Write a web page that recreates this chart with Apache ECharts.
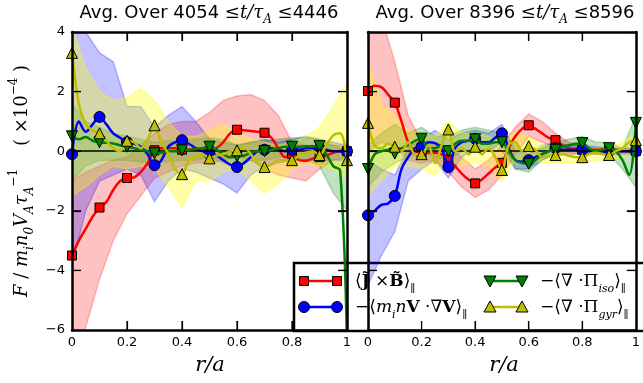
<!DOCTYPE html>
<html><head><meta charset="utf-8">
<script src="https://cdn.jsdelivr.net/npm/echarts@6/dist/echarts.min.js"></script>
<style>html,body{margin:0;padding:0;background:#fff}#c{width:643px;height:383px}</style>
</head><body><div id="c"></div><script>
// radial positions of line samples and band samples
const rLine = [0,0.025,0.05,0.075,0.1,0.125,0.15,0.175,0.2,0.225,0.25,0.275,0.3,0.325,0.35,0.375,0.4,0.425,0.45,0.475,0.5,0.525,0.55,0.575,0.6,0.625,0.65,0.675,0.7,0.725,0.75,0.775,0.8,0.825,0.85,0.875,0.9,0.925,0.95,0.975,1];
const rBand = [0,0.05,0.1,0.15,0.2,0.25,0.3,0.35,0.4,0.45,0.5,0.55,0.6,0.65,0.7,0.75,0.8,0.85,0.9,0.95,1];
const xTicks = [0.2,0.4,0.6,0.8];
const yTicks = [-4,-2,0,2];
const titles = ['4054', '4446', '8396', '8596'];

// ---- Left panel (4054 <= t <= 4446) ----
const redL = [-3.5,-3.0,-2.6,-2.2,-1.89,-1.7,-1.3,-1.0,-0.9,-0.88,-0.7,-0.4,0.03,0.1,0.1,0.1,0.05,0.05,0.05,0.05,0.0,0.1,0.3,0.6,0.72,0.7,0.68,0.65,0.62,0.45,0.1,-0.2,-0.1,-0.3,-0.32,-0.25,-0.2,-0.15,-0.05,0.0,0.0];
const blueL = [-0.1,1.0,0.65,0.9,1.15,0.9,0.6,0.45,0.3,0.25,0.15,-0.1,-0.47,-0.3,0.15,0.3,0.37,0.25,0.1,0.0,-0.1,-0.15,-0.3,-0.45,-0.53,-0.4,-0.2,0.0,0.05,0.1,0.05,0.0,0.05,0.05,0.1,0.1,0.1,0.05,0.0,0.0,0.0];
const greenL = [0.5,0.4,0.48,0.35,0.3,0.28,0.26,0.2,0.15,0.1,0.05,0.0,-0.07,-0.05,0.0,0.0,0.03,0.05,0.08,0.1,0.15,0.05,-0.1,-0.2,-0.17,-0.15,-0.05,0.0,0.0,0.05,0.1,0.15,0.15,0.15,0.17,0.17,0.17,-0.1,-0.5,-0.65,-6.5];
const yellowL = [3.3,1.6,0.9,0.7,0.6,0.35,0.1,0.0,0.35,0.3,0.1,0.4,0.87,0.3,-0.07,-0.6,-0.77,-0.3,-0.2,-0.1,-0.24,-0.15,-0.1,0.0,0.03,0.15,-0.1,-0.4,-0.53,-0.45,-0.3,-0.3,-0.3,-0.15,-0.05,0.0,-0.13,0.2,0.53,0.6,-0.3];
const redLoL = [-7,-5.9,-4.3,-3.0,-2.1,-1.5,-0.9,-0.7,-0.5,-0.4,-0.4,-0.3,-0.2,-0.3,-0.6,-0.8,-0.9,-1.0,-0.6,-0.3,-0.2];
const redHiL = [-1.0,-0.7,-0.5,-0.3,-0.2,0.2,0.6,0.9,1.0,1.0,1.3,1.7,1.85,1.9,1.7,1.2,0.3,0.2,0.2,0.2,0.2];
const blueLoL = [-3.8,-2.0,-1.0,-0.8,-0.6,-0.8,-1.7,-1.0,-0.6,-0.7,-0.9,-1.1,-1.4,-0.8,-0.5,-0.4,-0.3,-0.3,-0.3,-0.3,-0.3];
const blueHiL = [4.5,4.0,3.3,3.0,1.5,1.5,0.8,1.2,1.5,1.0,0.4,0.3,0.2,0.3,0.4,0.3,0.4,0.5,0.4,0.3,0.2];
const greenLoL = [-1.0,-0.5,-0.3,-0.3,-0.3,-0.35,-0.4,-0.35,-0.3,-0.3,-0.2,-0.4,-0.5,-0.3,-0.3,-0.2,-0.15,-0.3,-0.5,-1.4,-2.0];
const greenHiL = [1.6,1.0,0.8,0.6,0.5,0.4,0.3,0.35,0.35,0.4,0.45,0.4,0.2,0.3,0.35,0.4,0.45,0.45,0.4,0.2,0.0];
const yellowLoL = [-1.5,-1.2,-0.8,-0.5,-0.6,-0.5,-0.6,-1.2,-1.9,-1.0,-1.0,-0.7,-0.6,-1.0,-1.4,-1.1,-0.6,-0.4,-0.5,-0.6,-0.9];
const yellowHiL = [4.2,2.8,2.0,1.7,1.8,2.1,1.7,1.0,0.5,0.5,0.7,0.9,0.6,0.4,0.3,0.2,0.3,0.5,0.8,1.5,2.3];

// ---- Right panel (8396 <= t <= 8596) ----
const redR = [2.02,2.2,2.15,1.9,1.63,1.0,0.3,0.0,-0.05,-0.05,-0.05,-0.1,-0.28,-0.5,-0.75,-0.95,-1.08,-0.95,-0.75,-0.55,-0.39,0.1,0.5,0.75,0.87,0.75,0.6,0.45,0.37,0.2,0.1,0.08,0.05,0.05,0.05,0.05,0.05,0.05,0.0,0.0,0.0];
const blueR = [-2.15,-2.0,-1.8,-1.75,-1.5,-0.6,-0.2,0.1,0.15,0.3,0.27,0.1,-0.53,0.1,0.3,0.35,0.42,0.3,0.3,0.45,0.6,0.1,-0.3,-0.35,-0.3,-0.2,-0.1,0.0,0.1,0.05,0.05,0.05,0.05,0.0,0.0,0.0,0.0,0.0,0.0,0.0,0.0];
const greenR = [-0.6,-0.1,0.0,0.05,-0.08,0.1,0.2,0.35,0.42,0.1,0.1,0.2,0.0,0.25,0.35,0.35,0.4,0.25,0.25,0.3,0.3,0.0,-0.3,-0.4,-0.42,-0.3,-0.1,0.0,0.05,0.15,0.2,0.25,0.27,0.1,0.0,0.05,0.1,0.0,-0.3,-0.8,0.95];
const yellowR = [0.95,0.2,0.1,0.25,0.15,0.0,0.3,-0.1,-0.1,0.2,-0.4,0.2,0.73,0.0,0.1,-0.1,0.15,-0.1,0.1,-0.2,-0.63,0.2,0.3,0.0,0.17,0.05,-0.2,-0.15,-0.13,-0.1,-0.15,-0.2,-0.2,-0.1,-0.05,-0.1,-0.13,0.0,0.1,0.3,0.37];
const redLoR = [0.0,0.3,0.2,-0.3,-0.4,-0.3,-0.7,-1.2,-1.55,-1.3,-0.8,-0.1,0.5,0.3,0.1,-0.05,-0.1,-0.05,-0.05,-0.05,-0.05];
const redHiR = [4.5,4.5,3.0,1.2,0.3,0.2,0.1,-0.2,-0.6,-0.3,0.2,0.8,1.25,1.0,0.6,0.3,0.15,0.1,0.1,0.1,0.05];
const blueLoR = [-4.5,-3.5,-2.7,-1.0,-0.6,-0.3,-0.9,-0.2,0.1,0.0,0.3,-0.6,-0.6,-0.3,-0.1,-0.1,-0.1,-0.1,-0.1,-0.1,-0.1];
const blueHiR = [-0.3,-0.6,-0.8,0.1,0.4,0.7,0.4,0.6,0.7,0.6,0.9,0.0,-0.1,0.1,0.3,0.2,0.2,0.15,0.1,0.1,0.1];
const greenLoR = [-1.2,-0.7,-0.4,-0.2,0.0,-0.2,-0.3,0.0,0.1,0.0,0.0,-0.6,-0.7,-0.3,-0.1,0.0,0.0,-0.1,-0.1,-0.6,-1.2];
const greenHiR = [0.2,0.6,0.9,0.6,0.8,0.5,0.5,0.7,0.8,0.7,0.6,0.2,-0.1,0.2,0.3,0.4,0.5,0.3,0.3,0.1,1.2];
const yellowLoR = [-1.5,-1.0,-0.5,-0.5,-0.6,-0.8,-0.3,-0.5,-0.4,-0.5,-1.0,-0.3,-0.2,-0.4,-0.4,-0.4,-0.4,-0.3,-0.3,-0.2,0.0];
const yellowHiR = [3.0,1.6,1.2,0.7,0.6,0.5,1.0,0.6,0.6,0.5,0.3,0.6,0.5,0.2,0.2,0.1,0.1,0.1,0.1,0.3,0.6];

const C = {red:'#ff0000', blue:'#0000ff', green:'#008000', yellow:'#bfbf00'};
const BAND = {red:'rgba(255,0,0,0.24)', blue:'rgba(0,0,255,0.24)', green:'rgba(0,128,0,0.24)', yellow:'rgba(255,255,0,0.33)'};
const MATH = 'DejaVu Serif';
const SANS = 'DejaVu Sans';

const chart = echarts.init(document.getElementById('c'), null, {renderer:'canvas'});

const gridsPx = [{left:72, top:32, width:275, height:298}, {left:368, top:32, width:273, height:298}];

function fmtY(v){ return v < 0 ? '\u2212' + (-v) : String(v); }

const xAxes = [], yAxes = [];
gridsPx.forEach((g, gi) => {
  ['bottom', 'top'].forEach(pos => {
    xAxes.push({type:'value', min:0, max:1, interval:0.2, gridIndex:gi, position:pos, z:50,
      axisLine:{show:true, onZero:false, lineStyle:{color:'#000', width:2.5}},
      axisTick:{show:true, inside:true, length:9, lineStyle:{color:'#000', width:1.2}},
      splitLine:{show:false},
      axisLabel:{show: pos === 'bottom', color:'#000', fontFamily:SANS, fontSize:13, margin:6,
        formatter: v => String(Math.round(v*10)/10)}});
  });
  ['left', 'right'].forEach(pos => {
    yAxes.push({type:'value', min:-6, max:4, interval:2, gridIndex:gi, position:pos, z:50,
      axisLine:{show:true, onZero:false, lineStyle:{color:'#000', width:2.5}},
      axisTick:{show:true, inside:true, length:9, lineStyle:{color:'#000', width:1.2}},
      splitLine:{show:false},
      axisLabel:{show: gi === 0 && pos === 'left', color:'#000', fontFamily:SANS, fontSize:13, margin:7, formatter: fmtY}});
  });
});

function bandSeries(gi, lo, hi, key){
  return {type:'custom', xAxisIndex:gi*2, yAxisIndex:gi*2, clip:true, silent:true, z:1,
    data:[[0.5,0]], animation:false,
    renderItem:(params, api) => {
      const pts = [];
      for (let i = 0; i < rBand.length; i++) pts.push(api.coord([rBand[i], hi[i]]));
      for (let i = rBand.length - 1; i >= 0; i--) pts.push(api.coord([rBand[i], lo[i]]));
      return {type:'polygon', shape:{points:pts},
        style:{fill:BAND[key], stroke:BAND[key], lineWidth:1.5}};
    }};
}

// inward tick marks on all four sides, placed through the axes' scales
function tickSeries(gi){
  return {type:'custom', xAxisIndex:gi*2, yAxisIndex:gi*2, clip:false, silent:true, z:40,
    data:[[0.5,0]], animation:false,
    renderItem:(params, api) => {
      const kids = [];
      const L = 9, st = {stroke:'#000', lineWidth:1.2};
      xTicks.forEach(x => {
        const b = api.coord([x, -6]), t = api.coord([x, 4]);
        kids.push({type:'line', shape:{x1:b[0], y1:b[1], x2:b[0], y2:b[1]-L}, style:st});
        kids.push({type:'line', shape:{x1:t[0], y1:t[1], x2:t[0], y2:t[1]+L}, style:st});
      });
      yTicks.forEach(y => {
        const l = api.coord([0, y]), r = api.coord([1, y]);
        kids.push({type:'line', shape:{x1:l[0], y1:l[1], x2:l[0]+L, y2:l[1]}, style:st});
        kids.push({type:'line', shape:{x1:r[0], y1:r[1], x2:r[0]-L, y2:r[1]}, style:st});
      });
      return {type:'group', children:kids};
    }};
}

function lineSeries(gi, ys, key, symbol, size, rotate, z, withZero){
  const s = {type:'line', xAxisIndex:gi*2, yAxisIndex:gi*2, animation:false, clip:true, z:z,
    data: rLine.map((r,i) => [r, ys[i]]),
    smooth:0.35, showSymbol:true, showAllSymbol:true,
    symbol:(v, p) => (p.dataIndex % 4 === 0 ? symbol : 'none'),
    symbolSize:size, symbolRotate:rotate,
    lineStyle:{color:C[key], width:2.5},
    itemStyle:{color:C[key], borderColor:'#000', borderWidth:1}};
  if (withZero) {
    s.markLine = {silent:true, symbol:'none', label:{show:false}, animation:false,
      lineStyle:{color:'#000', width:1.5, type:'solid'}, data:[{yAxis:0}]};
  }
  return s;
}

const series = [
  bandSeries(0, redLoL, redHiL, 'red'),
  bandSeries(0, blueLoL, blueHiL, 'blue'),
  bandSeries(0, greenLoL, greenHiL, 'green'),
  bandSeries(0, yellowLoL, yellowHiL, 'yellow'),
  bandSeries(1, redLoR, redHiR, 'red'),
  bandSeries(1, blueLoR, blueHiR, 'blue'),
  bandSeries(1, greenLoR, greenHiR, 'green'),
  bandSeries(1, yellowLoR, yellowHiR, 'yellow'),
  lineSeries(0, redL, 'red', 'rect', 9, 0, 3, true),
  lineSeries(0, blueL, 'blue', 'circle', 11, 0, 4, false),
  lineSeries(0, greenL, 'green', 'triangle', 11, 180, 5, false),
  lineSeries(0, yellowL, 'yellow', 'triangle', 11, 0, 6, false),
  lineSeries(1, redR, 'red', 'rect', 9, 0, 3, true),
  lineSeries(1, blueR, 'blue', 'circle', 11, 0, 4, false),
  lineSeries(1, greenR, 'green', 'triangle', 11, 180, 5, false),
  lineSeries(1, yellowR, 'yellow', 'triangle', 11, 0, 6, false),
  tickSeries(0),
  tickSeries(1)
];

const richMath = {
  n:{fontFamily:SANS, fontSize:18, color:'#000'},
  m:{fontFamily:MATH, fontSize:18, color:'#000'},
  mi:{fontFamily:MATH, fontStyle:'italic', fontSize:18, color:'#000'},
  s:{fontFamily:MATH, fontStyle:'italic', fontSize:12, color:'#000', verticalAlign:'bottom', lineHeight:26},
};
function titleText(a, b){ return '{n|Avg. Over ' + a + ' }{m|\u2264}{mi|t/\u03c4}{s|A}{m| \u2264}{n|' + b + '}'; }

const legRich = {
  t:{fontFamily:MATH, fontSize:17, color:'#000'},
  b:{fontFamily:MATH, fontWeight:'bold', fontSize:17, color:'#000'},
  i:{fontFamily:MATH, fontStyle:'italic', fontSize:17, color:'#000'},
  s:{fontFamily:MATH, fontSize:11, color:'#000', verticalAlign:'bottom', lineHeight:26},
  si:{fontFamily:MATH, fontStyle:'italic', fontSize:11, color:'#000', verticalAlign:'bottom', lineHeight:26}
};

function legIcon(x1, x2, y, key, kind){
  const els = [{type:'line', shape:{x1:x1, y1:y, x2:x2, y2:y}, style:{stroke:C[key], lineWidth:2.5}}];
  [x1, x2].forEach(x => {
    let e;
    if (kind === 'rect') e = {type:'rect', shape:{x:x-4.5, y:y-4.5, width:9, height:9}};
    else if (kind === 'circle') e = {type:'circle', shape:{cx:x, cy:y, r:5.5}};
    else if (kind === 'down') e = {type:'polygon', shape:{points:[[x-6,y-5],[x+6,y-5],[x,y+6]]}};
    else e = {type:'polygon', shape:{points:[[x-6,y+5],[x+6,y+5],[x,y-6]]}};
    e.style = {fill:C[key], stroke:'#000', lineWidth:1};
    els.push(e);
  });
  return els;
}

const graphic = [
  {type:'text', x:209, y:13, z:100, style:{text:titleText(titles[0], titles[1]), rich:richMath, align:'center', verticalAlign:'middle'}},
  {type:'text', x:505, y:13, z:100, style:{text:titleText(titles[2], titles[3]), rich:richMath, align:'center', verticalAlign:'middle'}},
  {type:'text', x:210, y:366, z:100, style:{text:'r/a', fontFamily:MATH, fontStyle:'italic', fontSize:21, fill:'#000', align:'center', verticalAlign:'middle'}},
  {type:'text', x:504, y:366, z:100, style:{text:'r/a', fontFamily:MATH, fontStyle:'italic', fontSize:21, fill:'#000', align:'center', verticalAlign:'middle'}},
  {type:'text', x:22, y:181, rotation:Math.PI/2, z:100, style:{
    text:'{i|F}{t| / }{i|m}{s|i}{i|n}{s|0}{i|V}{s|A}{i|\u03c4}{s|A}{p|\u22121}{t|    ( \u00d710}{p|\u22124}{t| )}',
    align:'center', verticalAlign:'middle',
    rich:{
      t:{fontFamily:MATH, fontSize:18, color:'#000'},
      i:{fontFamily:MATH, fontStyle:'italic', fontSize:18, color:'#000'},
      s:{fontFamily:MATH, fontStyle:'italic', fontSize:12, color:'#000', verticalAlign:'bottom', lineHeight:28},
      p:{fontFamily:MATH, fontSize:12, color:'#000', verticalAlign:'top', lineHeight:28}
    }}},
  {type:'group', z:100, children:[
    {type:'rect', shape:{x:294, y:263, width:360, height:68}, style:{fill:'#fff', stroke:'#000', lineWidth:2.5}},
    ...legIcon(304, 337, 281, 'red', 'rect'),
    ...legIcon(304, 337, 307, 'blue', 'circle'),
    ...legIcon(490, 522, 281, 'green', 'down'),
    ...legIcon(490, 522, 307, 'yellow', 'up'),
    {type:'text', x:355, y:282, style:{text:'{t|\u27e8}{b|J\u0303}{t| \u00d7}{b|B\u0303}{t|\u27e9}{s|\u2225}', rich:legRich, verticalAlign:'middle'}},
    {type:'text', x:355, y:308, style:{text:'{t|\u2212\u27e8}{i|m}{si|i}{i|n}{b|V}{t| \u00b7\u2207}{b|V}{t|\u27e9}{s|\u2225}', rich:legRich, verticalAlign:'middle'}},
    {type:'text', x:540, y:282, style:{text:'{t|\u2212\u27e8\u2207 \u00b7\u03a0}{si|iso}{t|\u27e9}{s|\u2225}', rich:legRich, verticalAlign:'middle'}},
    {type:'text', x:540, y:308, style:{text:'{t|\u2212\u27e8\u2207 \u00b7\u03a0}{si|gyr}{t|\u27e9}{s|\u2225}', rich:legRich, verticalAlign:'middle'}}
  ]}
];

chart.setOption({
  animation:false,
  backgroundColor:'#fff',
  grid: gridsPx.map(g => Object.assign({containLabel:false, show:false}, g)),
  xAxis: xAxes,
  yAxis: yAxes,
  series: series,
  graphic: graphic
});
</script></body></html>
